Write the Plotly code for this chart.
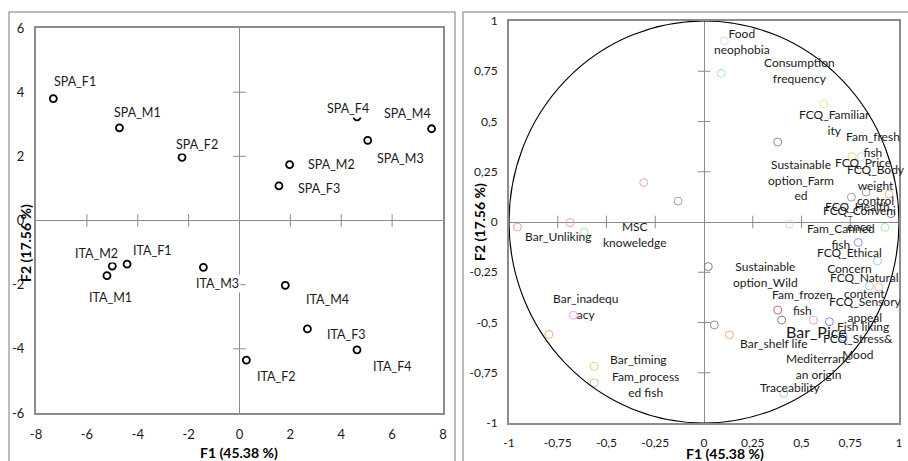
import plotly.graph_objects as go

W, H = 908, 461

# ---------------- Data: observations (left panel) ----------------
obs_names = ["SPA_F1", "SPA_M1", "SPA_F2", "SPA_M2", "SPA_F3", "SPA_M3", "SPA_M4", "SPA_F4",
             "ITA_M2", "ITA_F1", "ITA_M1", "ITA_M3", "ITA_M4", "ITA_F3", "ITA_F4", "ITA_F2"]
obs_f1 = [-7.32, -4.72, -2.26, 1.97, 1.55, 5.04, 7.55, 4.62,
          -5.00, -4.42, -5.21, -1.42, 1.80, 2.67, 4.62, 0.27]
obs_f2 = [3.80, 2.89, 1.97, 1.74, 1.08, 2.50, 2.86, 3.23,
          -1.42, -1.36, -1.72, -1.46, -2.02, -3.38, -4.03, -4.35]

left_x_ticks = [-8, -6, -4, -2, 0, 2, 4, 6, 8]
left_x_ticktext = ["-8", "-6", "-4", "-2", "0", "2", "4", "6", "8"]
left_y_ticks = [-6, -4, -2, 0, 2, 4, 6]
left_y_ticktext = ["-6", "-4", "-2", "0", "2", "4", "6"]

# ---------------- Data: variables (right panel) ----------------
var_f1 = [0.104, 0.087, 0.614, 0.378, 0.759, 0.805, 0.831, 0.756, 0.949, 0.959,
          0.928, 0.438, 0.791, 0.890, 0.022, 0.849, 0.897, 0.378, 0.398, 0.561,
          0.643, 0.714, 0.053, 0.130, 0.409, -0.309, -0.133, -0.957, -0.687, -0.615,
          -0.670, -0.795, -0.563, -0.563]
var_f2 = [0.902, 0.740, 0.587, 0.398, 0.325, 0.325, 0.149, 0.124, 0.139, 0.042,
          -0.027, -0.010, -0.102, -0.194, -0.222, -0.318, -0.323, -0.438, -0.488, -0.488,
          -0.496, -0.571, -0.512, -0.562, -0.852, 0.196, 0.104, -0.025, -0.003, -0.051,
          -0.464, -0.559, -0.718, -0.800]
var_labels = ["Food<br>neophobia", "Consumption<br>frequency", "FCQ_Familiar<br>ity",
              "Sustainable<br>option_Farm<br>ed", "FCQ_Price", "Fam_fresh<br>fish",
              "FCQ_Body<br>weight<br>control", "FCQ_Health", "", "FCQ_Conveni<br>ence",
              "Fam_Canned<br>fish", "", "FCQ_Ethical<br>Concern", "FCQ_Natural<br>content",
              "Sustainable<br>option_Wild", "FCQ_Sensory<br>appeal", "", "Fam_frozen<br>fish",
              "Mediterrane<br>an origin", "Bar_Pice", "Fish liking", "FCQ_Stress&amp;<br>Mood",
              "", "Bar_shelf life", "Traceability", "", "MSC<br>knoweledge", "Bar_Unliking",
              "", "", "Bar_inadequ<br>acy", "", "Bar_timing", "Fam_process<br>ed fish"]

right_ticks = [-1, -0.75, -0.5, -0.25, 0, 0.25, 0.5, 0.75, 1]
right_ticktext = ["-1", "-0,75", "-0,5", "-0,25", "0", "0,25", "0,5", "0,75", "1"]

# ---------------- Styles ----------------
var_colors = ["#d6e2e2", "#b3e0d4", "#ece59a", "#8f8f8f", "#e6dc6e", "#bde6ee",
              "#9a9a9a", "#a0a0a0", "#f2b07f", "#7f7f7f", "#b6e4b6", "#c3e3ee",
              "#8c8cf0", "#a6ccee", "#808080", "#9cd6d6", "#f3bf9f", "#c07070",
              "#808080", "#eea0d0", "#8080ff", "#7fa0ff", "#909090", "#f2b07f",
              "#a6d6a6", "#f0a0c0", "#a0a0a0", "#f2a0a0", "#f2a0b8", "#b0e0b0",
              "#eea0ee", "#f2b07f", "#c6de80", "#a6dea6"]
# label offsets in pixels (dx right, dy down)
obs_offsets = [(22, -16.7), (18.4, -15.4), (14.7, -13.3), (41.6, 0), (39.7, 2.6),
               (32.3, 18.7), (-23.7, -15.7), (-9, -8.7), (-16.3, -13), (25.7, -14),
               (4, 22), (13.7, 15.7), (42.4, 13.7), (39.4, 5.3), (35.7, 16.3), (30.4, 16.7)]
var_offsets = [(17.7, 1), (79, -2.8), (10.6, 18.2), (23.3, 38.1), (10.7, 6), (11.7, -11.7),
               (10, -7), (6.2, 9), (0, 0), (-32, 5.2), (-44, 9.2), (0, 0), (-9, 17.8),
               (-13.2, 24.5), (57.7, 7.8), (-4.5, 23.5), (0, 0), (24.5, -8), (36.6, 46),
               (2.7, 11.7), (34, 5), (14.4, 10), (0, 0), (44.4, 8.3), (6.3, -6), (0, 0),
               (-43.5, 33.5), (40.7, 9.7), (0, 0), (0, 0), (12.4, -9.1), (0, 0),
               (44.7, -7), (51.7, 1.5)]

FONT = "Lato, Carlito, Calibri, sans-serif"
AXIS_GRAY = "#8c8c8c"


def px(x):
    return x / W


def py(y):
    return 1 - y / H


fig = go.Figure()

# tick marks on the zero axes (left)
fig.add_trace(go.Scatter(x=[v for v in left_x_ticks if v not in (0, -8, 8)],
                         y=[0] * 6, mode="markers", xaxis="x", yaxis="y",
                         marker=dict(symbol="line-ns", size=9, line=dict(color=AXIS_GRAY, width=1)),
                         hoverinfo="skip", showlegend=False))
fig.add_trace(go.Scatter(x=[0] * 4, y=[v for v in left_y_ticks if v not in (0, -6, 6)],
                         mode="markers", xaxis="x", yaxis="y",
                         marker=dict(symbol="line-ew", size=9, line=dict(color=AXIS_GRAY, width=1)),
                         hoverinfo="skip", showlegend=False))
# tick marks on the zero axes (right)
fig.add_trace(go.Scatter(x=[v for v in right_ticks if v not in (0, -1, 1)],
                         y=[0] * 6, mode="markers", xaxis="x2", yaxis="y2",
                         marker=dict(symbol="line-ns", size=9, line=dict(color=AXIS_GRAY, width=1)),
                         hoverinfo="skip", showlegend=False))
fig.add_trace(go.Scatter(x=[0] * 6, y=[v for v in right_ticks if v not in (0, -1, 1)],
                         mode="markers", xaxis="x2", yaxis="y2",
                         marker=dict(symbol="line-ew", size=9, line=dict(color=AXIS_GRAY, width=1)),
                         hoverinfo="skip", showlegend=False))

# observations
fig.add_trace(go.Scatter(x=obs_f1, y=obs_f2, mode="markers", xaxis="x", yaxis="y",
                         marker=dict(symbol="circle-open", size=7, color="#000000",
                                     line=dict(width=1.8, color="#000000")),
                         showlegend=False, text=obs_names))
# variables
fig.add_trace(go.Scatter(x=var_f1, y=var_f2, mode="markers", xaxis="x2", yaxis="y2",
                         marker=dict(symbol="circle-open", size=8, color=var_colors,
                                     line=dict(width=1)),
                         showlegend=False))

annotations = []
for name, x, y, (dx, dy) in zip(obs_names, obs_f1, obs_f2, obs_offsets):
    annotations.append(dict(x=x, y=y, xref="x", yref="y", text=name, showarrow=False,
                            xshift=dx, yshift=-dy, bgcolor="white", borderpad=1,
                            font=dict(family=FONT, size=12.5, color="#1a1a1a")))
for lab, x, y, (dx, dy) in zip(var_labels, var_f1, var_f2, var_offsets):
    if not lab:
        continue
    size = 16 if lab == "Bar_Pice" else 12
    annotations.append(dict(x=x, y=y, xref="x2", yref="y2", text=lab, showarrow=False,
                            xshift=dx, yshift=-dy, align="center",
                            font=dict(family=FONT, size=size, color="#1a1a1a")))

# axis titles
title_font = dict(family=FONT, size=14, color="#000000")
title_common = dict(xref="paper", yref="paper", showarrow=False, font=title_font,
                    xanchor="center", yanchor="middle")
annotations += [
    dict(x=px(239), y=py(452), text="<b>F1 (45.38 %)</b>", **title_common),
    dict(x=px(725), y=py(453), text="<b>F1 (45.38 %)</b>", **title_common),
    dict(x=px(26), y=py(243), text="<b>F2 (17.56 %)</b>", textangle=-90, **title_common),
    dict(x=px(479), y=py(222), text="<b>F2 (17.56 %)</b>", textangle=-90, **title_common),
]

shapes = [
    # outer chart borders
    dict(type="rect", xref="paper", yref="paper", x0=px(9), x1=px(455), y0=-0.1, y1=py(12),
         line=dict(color="#a6a6a6", width=1.5), layer="below"),
    dict(type="rect", xref="paper", yref="paper", x0=px(463), x1=1.05, y0=-0.1, y1=py(12),
         line=dict(color="#a6a6a6", width=1.5), layer="below"),
    # correlation circle
    dict(type="circle", xref="x2", yref="y2", x0=-1, y0=-1, x1=1, y1=1,
         line=dict(color="#000000", width=1.1)),
]

tick_font = dict(family=FONT, size=13, color="#1a1a1a")
axis_common = dict(showgrid=False, zeroline=True, zerolinecolor=AXIS_GRAY, zerolinewidth=1.2,
                   showline=True, mirror=True, linecolor=AXIS_GRAY, linewidth=2,
                   ticks="", tickmode="array", automargin=False)

fig.update_layout(
    width=W, height=H, margin=dict(l=0, r=0, t=0, b=0),
    paper_bgcolor="white", plot_bgcolor="white", showlegend=False,
    xaxis=dict(domain=[px(36), px(443)], range=[-8, 8], anchor="y",
               tickvals=left_x_ticks, ticktext=left_x_ticktext, tickfont=tick_font,
               ticklabelstandoff=8, **axis_common),
    yaxis=dict(domain=[py(413), py(28)], range=[-6, 6], anchor="x",
               tickvals=left_y_ticks, ticktext=left_y_ticktext, tickfont=tick_font,
               ticklabelstandoff=7, **axis_common),
    xaxis2=dict(domain=[px(509), px(899)], range=[-1, 1], anchor="y2",
                tickvals=right_ticks, ticktext=right_ticktext,
                tickfont=dict(family=FONT, size=12, color="#1a1a1a"),
                ticklabelstandoff=8, **axis_common),
    yaxis2=dict(domain=[py(423), py(21)], range=[-1, 1], anchor="x2",
                tickvals=right_ticks, ticktext=right_ticktext,
                tickfont=dict(family=FONT, size=12, color="#1a1a1a"),
                ticklabelstandoff=7, **axis_common),
    annotations=annotations,
    shapes=shapes,
)

fig.write_html("out.html", config={"displayModeBar": False},
               post_script="document.body.style.margin='0';"
               "document.body.style.overflow='hidden';")
